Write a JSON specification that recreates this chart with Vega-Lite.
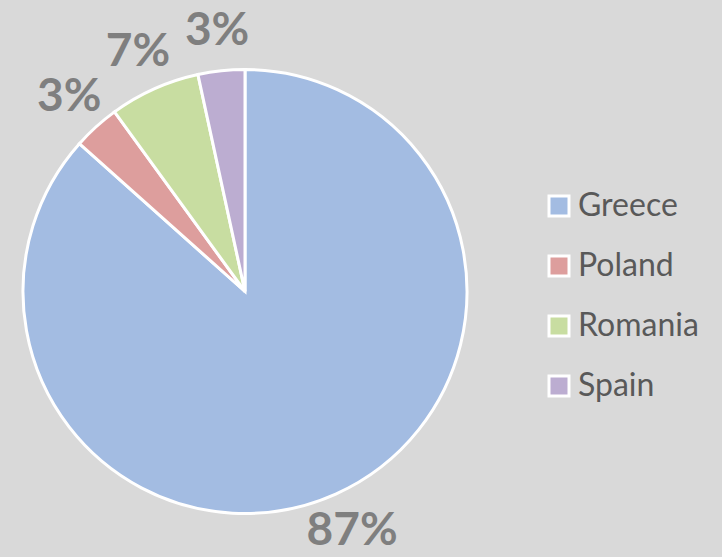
{
  "$schema": "https://vega.github.io/schema/vega-lite/v6.json",
  "width": 490,
  "height": 531,
  "autosize": {"type": "none"},
  "padding": {"left": 0, "top": 26, "right": 232, "bottom": 0},
  "background": "#d9d9d9",
  "config": {"view": {"stroke": null}},
  "data": {"values": [
    {"country": "Greece", "share": 0.866},
    {"country": "Poland", "share": 0.034},
    {"country": "Romania", "share": 0.066},
    {"country": "Spain", "share": 0.034}
  ]},
  "encoding": {
    "theta": {"field": "share", "type": "quantitative", "stack": true},
    "order": {"field": "country", "type": "nominal", "sort": "ascending"}
  },
  "layer": [
    {
      "mark": {"type": "arc", "outerRadius": 222, "stroke": "white", "strokeWidth": 3},
      "encoding": {
        "color": {
          "field": "country", "type": "nominal",
          "scale": {"domain": ["Greece", "Poland", "Romania", "Spain"], "range": ["#a3bce2", "#dd9e9d", "#c8dda1", "#bcadd1"]},
          "legend": {
            "title": null, "orient": "none", "legendX": 543, "legendY": 164,
            "padding": 0, "symbolType": "square", "symbolSize": 400,
            "symbolStrokeColor": "white", "symbolStrokeWidth": 3, "symbolOpacity": 1,
            "labelFont": "Lato", "labelFontSize": 32, "labelColor": "#595959",
            "labelOffset": 3, "rowPadding": 28
          }
        }
      }
    },
    {
      "mark": {"type": "text", "radius": 262, "font": "Lato", "fontWeight": "bold", "fontSize": 46, "color": "#7f7f7f", "align": "center", "baseline": "middle"},
      "encoding": {
        "text": {"field": "share", "type": "quantitative", "format": ".0%"},
        "detail": {"field": "country", "type": "nominal"}
      }
    }
  ]
}
